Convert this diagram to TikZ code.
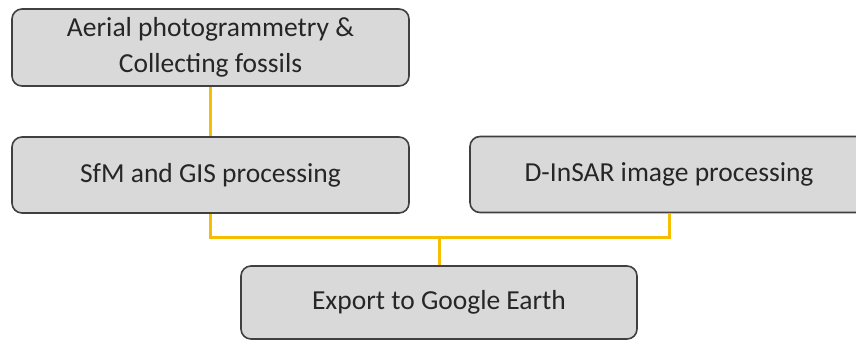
\documentclass[tikz,border=0pt]{standalone}
\usepackage{fontspec}
\setmainfont{Carlito}
\definecolor{boxfill}{HTML}{D9D9D9}
\definecolor{boxedge}{HTML}{404040}
\definecolor{conncol}{HTML}{F5BE00}
\begin{document}
\begin{tikzpicture}[x=1pt,y=-1pt,
  stepbox/.style={draw=boxedge,line width=1.6pt,fill=boxfill,rounded corners=10pt,
    inner sep=0pt,align=center,font=\fontsize{27.5}{36}\selectfont,text=black!85},
  conn/.style={draw=conncol,line width=3pt}]
\useasboundingbox (0,0) rectangle (856,341);
\clip (0,0) rectangle (856,341);
\node[stepbox,minimum width=397pt,minimum height=77pt] (b1) at (210.5,47.5) {Aerial photogrammetry \&\\Collecting fossils};
\node[stepbox,minimum width=397pt,minimum height=76pt] (b2) at (210.5,175) {SfM and GIS processing};
\node[stepbox,minimum width=398pt,minimum height=76pt] (b3) at (669,174.5) {D-InSAR image processing};
\node[stepbox,minimum width=396pt,minimum height=73pt] (b4) at (439,302.5) {Export to Google Earth};
\coordinate (mid) at (439,237);
\draw[conn] (b1.south) -- (b2.north);
\draw[conn] (b2.south) |- (mid) -| (b3.south);
\draw[conn] (mid) -- (b4.north);
\end{tikzpicture}
\end{document}
